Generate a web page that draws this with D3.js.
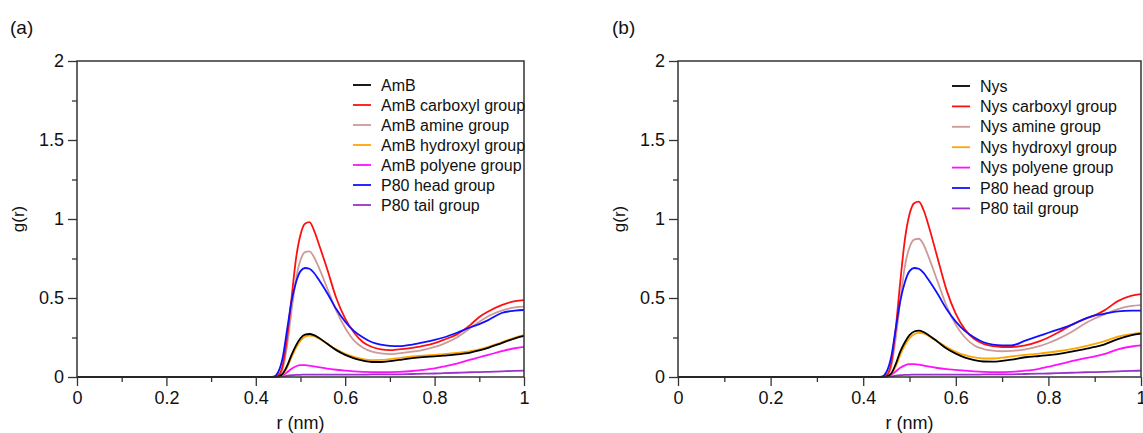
<!DOCTYPE html>
<html><head><meta charset="utf-8">
<script src="https://cdn.jsdelivr.net/npm/d3@7"></script>
<style>
html,body{margin:0;padding:0;background:#fff;}
text{font-family:"Liberation Sans",Arial,Helvetica,sans-serif;fill:#111;}
</style></head>
<body><svg id="c" width="1143" height="433"></svg>
<script>
// shared r grid (nm)
const rGrid = [0,0.43,0.44,0.45,0.46,0.47,0.48,0.49,0.50,0.51,0.52,0.53,0.54,0.56,0.58,0.60,0.62,0.64,0.66,0.68,0.70,0.72,0.75,0.78,0.80,0.82,0.85,0.88,0.90,0.92,0.95,0.98,1.0];

// Panel (a) : AmB
const aAmB      = [0,0,0,0.003,0.02,0.07,0.14,0.20,0.245,0.268,0.272,0.265,0.25,0.21,0.17,0.14,0.118,0.103,0.095,0.095,0.10,0.108,0.12,0.128,0.13,0.135,0.143,0.155,0.168,0.185,0.215,0.245,0.26];
const aCarboxyl = [0,0,0,0.01,0.07,0.25,0.50,0.75,0.90,0.97,0.98,0.93,0.85,0.68,0.50,0.37,0.28,0.22,0.19,0.175,0.17,0.175,0.185,0.20,0.215,0.235,0.27,0.33,0.38,0.415,0.455,0.48,0.487];
const aAmine    = [0,0,0,0.005,0.05,0.20,0.42,0.62,0.74,0.79,0.795,0.76,0.70,0.56,0.42,0.31,0.23,0.185,0.16,0.15,0.145,0.15,0.16,0.175,0.19,0.21,0.25,0.31,0.35,0.385,0.42,0.44,0.445];
const aHydroxyl = [0,0,0,0.002,0.015,0.06,0.125,0.185,0.23,0.255,0.262,0.258,0.245,0.21,0.175,0.147,0.127,0.113,0.107,0.108,0.113,0.12,0.13,0.137,0.14,0.145,0.152,0.163,0.175,0.19,0.22,0.25,0.265];
const aPolyene  = [0,0,0,0.002,0.01,0.03,0.052,0.068,0.075,0.075,0.072,0.067,0.062,0.053,0.046,0.04,0.036,0.033,0.031,0.03,0.031,0.033,0.038,0.047,0.055,0.066,0.085,0.11,0.125,0.14,0.163,0.182,0.19];
const aHead     = [0,0,0.002,0.03,0.12,0.30,0.48,0.60,0.67,0.69,0.685,0.66,0.62,0.53,0.43,0.35,0.29,0.25,0.22,0.205,0.197,0.195,0.205,0.222,0.235,0.25,0.28,0.315,0.335,0.36,0.405,0.42,0.424];
const aTail     = [0,0,0,0.001,0.004,0.008,0.011,0.013,0.014,0.015,0.015,0.015,0.015,0.015,0.015,0.015,0.015,0.015,0.016,0.016,0.016,0.017,0.019,0.021,0.022,0.024,0.027,0.03,0.031,0.033,0.036,0.039,0.04];

// Panel (b) : Nys
const bNys      = [0,0,0,0.003,0.02,0.08,0.16,0.22,0.265,0.288,0.293,0.285,0.268,0.225,0.18,0.148,0.123,0.107,0.098,0.097,0.102,0.11,0.125,0.133,0.138,0.145,0.16,0.178,0.19,0.205,0.24,0.265,0.275];
const bCarboxyl = [0,0,0,0.01,0.08,0.30,0.60,0.87,1.03,1.10,1.11,1.06,0.97,0.76,0.55,0.40,0.30,0.24,0.21,0.195,0.19,0.19,0.20,0.225,0.25,0.28,0.33,0.37,0.39,0.42,0.48,0.515,0.525];
const bAmine    = [0,0,0,0.005,0.06,0.24,0.48,0.70,0.82,0.87,0.875,0.84,0.77,0.61,0.45,0.33,0.25,0.20,0.177,0.167,0.163,0.165,0.175,0.195,0.215,0.24,0.285,0.34,0.37,0.395,0.43,0.45,0.455];
const bHydroxyl = [0,0,0,0.002,0.015,0.065,0.14,0.20,0.245,0.27,0.28,0.276,0.262,0.225,0.19,0.16,0.138,0.124,0.117,0.117,0.122,0.13,0.14,0.148,0.155,0.163,0.177,0.195,0.21,0.225,0.255,0.272,0.28];
const bPolyene  = [0,0,0,0.002,0.012,0.035,0.058,0.074,0.081,0.082,0.079,0.073,0.067,0.057,0.05,0.045,0.04,0.036,0.033,0.031,0.03,0.033,0.04,0.052,0.065,0.078,0.1,0.12,0.13,0.145,0.175,0.193,0.2];
const bHead     = [0,0,0.002,0.03,0.12,0.30,0.48,0.60,0.67,0.69,0.685,0.66,0.62,0.53,0.43,0.35,0.29,0.25,0.22,0.205,0.2,0.2,0.23,0.26,0.28,0.30,0.33,0.37,0.39,0.40,0.415,0.42,0.42];
const bTail     = [0,0,0,0.001,0.004,0.008,0.011,0.013,0.014,0.015,0.015,0.015,0.015,0.015,0.015,0.015,0.015,0.015,0.016,0.016,0.016,0.017,0.019,0.021,0.022,0.024,0.027,0.03,0.031,0.033,0.036,0.039,0.04];

const labelsA = ["AmB","AmB carboxyl group","AmB amine group","AmB hydroxyl group","AmB polyene group","P80 head group","P80 tail group"];
const labelsB = ["Nys","Nys carboxyl group","Nys amine group","Nys hydroxyl group","Nys polyene group","P80 head group","P80 tail group"];
const colors  = ["#000000","#ff1010","#cc9a98","#ffa500","#ff10ff","#1010ff","#9933cc"];
const xTicks = [0,0.2,0.4,0.6,0.8,1];
const yTicks = [0,0.5,1,1.5,2];
const xMinor = [0.1,0.3,0.5,0.7,0.9];
const yMinor = [0.25,0.75,1.25,1.75];
const panels = [
  {tag:"(a)", series:[aAmB,aCarboxyl,aAmine,aHydroxyl,aPolyene,aHead,aTail], labels:labelsA,
   x0:77, x1:524, tagX:10, legX:353, legY:85, legDy:20},
  {tag:"(b)", series:[bNys,bCarboxyl,bAmine,bHydroxyl,bPolyene,bHead,bTail], labels:labelsB,
   x0:678, x1:1141, tagX:612, legX:952, legY:86, legDy:20.4}
];

const svg = d3.select("#c");
svg.append("rect").attr("width",1143).attr("height",433).attr("fill","#fff");
const yTop = 61, yBot = 377;
const axisCol = "#333";

panels.forEach(p => {
  const x = d3.scaleLinear().domain([0,1]).range([p.x0,p.x1]);
  const y = d3.scaleLinear().domain([0,2]).range([yBot,yTop]);
  const g = svg.append("g");

  // lines (draw in reverse so AmB on top? draw tail first)
  const line = d3.line().x(d=>x(d[0])).y(d=>y(d[1])).curve(d3.curveMonotoneX);
  const order = [6,4,2,1,5,3,0];
  order.forEach(i => {
    const pts = rGrid.map((r,k)=>[r,p.series[i][k]]);
    g.append("path").attr("d",line(pts)).attr("fill","none")
      .attr("stroke",colors[i]).attr("stroke-width",1.8).attr("stroke-linejoin","round");
  });

  // frame
  g.append("rect").attr("x",p.x0).attr("y",yTop).attr("width",p.x1-p.x0).attr("height",yBot-yTop)
    .attr("fill","none").attr("stroke",axisCol).attr("stroke-width",1.5);

  // x axis
  const xa = g.append("g").attr("transform",`translate(0,${yBot})`)
    .call(d3.axisBottom(x).tickValues(xTicks).tickSize(9).tickPadding(5).tickFormat(d3.format("~g")));
  g.append("g").attr("transform",`translate(0,${yBot})`)
    .call(d3.axisBottom(x).tickValues(xMinor).tickSize(5).tickFormat(""));
  // y axis
  const ya = g.append("g").attr("transform",`translate(${p.x0},0)`)
    .call(d3.axisLeft(y).tickValues(yTicks).tickSize(9).tickPadding(4).tickFormat(d3.format("~g")));
  g.append("g").attr("transform",`translate(${p.x0},0)`)
    .call(d3.axisLeft(y).tickValues(yMinor).tickSize(5).tickFormat(""));
  g.selectAll(".domain").remove();
  g.selectAll(".tick line").attr("stroke",axisCol).attr("stroke-width",1.3);
  g.selectAll(".tick text").attr("font-size",18).attr("font-family","Liberation Sans, Arial, sans-serif").attr("fill","#111");

  // axis titles
  g.append("text").attr("x",(p.x0+p.x1)/2).attr("y",424).attr("text-anchor","middle")
    .attr("dominant-baseline","middle").attr("font-size",18).text("r (nm)");
  g.append("text").attr("transform",`translate(${p.x0-57},${(yTop+yBot)/2}) rotate(-90)`)
    .attr("text-anchor","middle").attr("dominant-baseline","middle").attr("font-size",17).text("g(r)");
  // panel tag
  g.append("text").attr("x",p.tagX).attr("y",34).attr("font-size",19).text(p.tag);

  // legend
  p.labels.forEach((lab,i)=>{
    const yy = p.legY + i*p.legDy;
    g.append("line").attr("x1",p.legX).attr("x2",p.legX+18).attr("y1",yy).attr("y2",yy)
      .attr("stroke",colors[i]).attr("stroke-width",1.8);
    g.append("text").attr("x",p.legX+28).attr("y",yy).attr("dominant-baseline","central")
      .attr("font-size",16).text(lab);
  });
});
</script></body></html>
